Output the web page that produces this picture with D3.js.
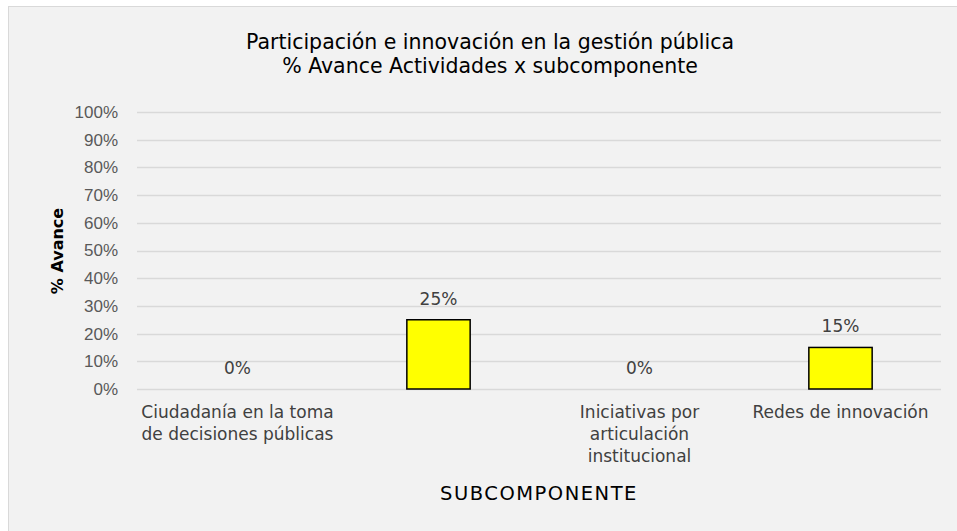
<!DOCTYPE html>
<html>
<head>
<meta charset="utf-8">
<script src="https://cdn.jsdelivr.net/npm/d3@7"></script>
<style>
  body { margin: 0; background: #fff; }
  svg { display: block; font-family: "DejaVu Sans", sans-serif; }
</style>
</head>
<body>
<svg id="chart"></svg>
<script>
// chart data
var categories = ["Ciudadanía en la toma de decisiones públicas", "", "Iniciativas por articulación institucional", "Redes de innovación"];
var categoryLines = [["Ciudadanía en la toma", "de decisiones públicas"], [""], ["Iniciativas por", "articulación", "institucional"], ["Redes de innovación"]];
var avance = [0, 0.25, 0, 0.15];
var yTicks = [0, 0.1, 0.2, 0.3, 0.4, 0.5, 0.6, 0.7, 0.8, 0.9, 1];
var titleLines = ["Participación e innovación en la gestión pública", "% Avance Actividades x subcomponente"];

var W = 957, H = 531;
var margin = { left: 137, right: 16, top: 112, bottom: 142 };
var width = W - margin.left - margin.right,
  height = H - margin.top - margin.bottom;

var svg = d3.select("#chart").attr("width", W).attr("height", H);

// chart box
svg.append("rect")
  .attr("x", 8.5).attr("y", 6.5)
  .attr("width", W).attr("height", H)
  .attr("fill", "#f2f2f2")
  .attr("stroke", "#d9d9d9");

svg.append("text")
  .attr("x", 490).attr("y", 49)
  .attr("text-anchor", "middle")
  .style("font-size", "20.5px")
  .attr("fill", "#000")
  .selectAll("tspan")
  .data(titleLines)
  .enter().append("tspan")
  .attr("x", 490)
  .attr("dy", (d, i) => i == 0 ? 0 : 23.5)
  .text(d => d);

var g = svg.append("g").attr("transform", `translate(${margin.left},${margin.top})`);

var x = d3.scaleBand().domain(d3.range(categories.length)).range([0, width]).paddingInner(0.685).paddingOuter(0.3425);
var y = d3.scaleLinear().domain([0, 1]).range([height, 0]);

// gridlines
g.selectAll(".grid")
  .data(yTicks)
  .enter().append("line")
  .attr("x1", 0).attr("x2", width)
  .attr("y1", d => Math.round(y(d)) + 0.5)
  .attr("y2", d => Math.round(y(d)) + 0.5)
  .attr("stroke", "#d9d9d9")
  .attr("stroke-width", 1.5);

// y axis
var yAxis = g.append("g")
  .call(d3.axisLeft(y).tickValues(yTicks).tickFormat(d3.format(".0%")).tickSize(0).tickPadding(19));
yAxis.select(".domain").remove();
yAxis.selectAll("text").attr("fill", "#595959").style("font-size", "17px").attr("font-family", null);

// bars
g.selectAll(".bar")
  .data(avance)
  .enter().append("rect")
  .attr("x", (d, i) => x(i))
  .attr("y", d => y(d))
  .attr("width", x.bandwidth())
  .attr("height", d => y(0) - y(d))
  .attr("fill", "#ffff00")
  .attr("stroke", d => d > 0 ? "#000" : "none")
  .attr("stroke-width", 1.5);

// data labels
g.selectAll(".lbl")
  .data(avance)
  .enter().append("text")
  .attr("x", (d, i) => x(i) + x.bandwidth() / 2)
  .attr("y", d => y(d) - 15)
  .attr("text-anchor", "middle")
  .attr("fill", "#404040")
  .style("font-size", "17px")
  .text(d => d3.format(".0%")(d));

// category labels
var xl = g.selectAll(".xl")
  .data(categoryLines)
  .enter().append("text")
  .attr("text-anchor", "middle")
  .attr("fill", "#404040")
  .style("font-size", "17px")
  .attr("transform", (d, i) => `translate(${x(i) + x.bandwidth() / 2},${height + 29})`);
xl.selectAll("tspan")
  .data(d => d)
  .enter().append("tspan")
  .attr("x", 0)
  .attr("dy", (d, i) => i == 0 ? 0 : 22)
  .text(d => d);

// axis titles
svg.append("text")
  .attr("transform", "translate(63,251) rotate(-90)")
  .attr("text-anchor", "middle")
  .style("font-size", "16px")
  .style("font-weight", "bold")
  .attr("fill", "#000")
  .text("% Avance");

svg.append("text")
  .attr("x", 539).attr("y", 500)
  .attr("text-anchor", "middle")
  .style("font-size", "19.5px")
  .style("letter-spacing", "1.5px")
  .attr("fill", "#000")
  .text("SUBCOMPONENTE");
</script>
</body>
</html>
